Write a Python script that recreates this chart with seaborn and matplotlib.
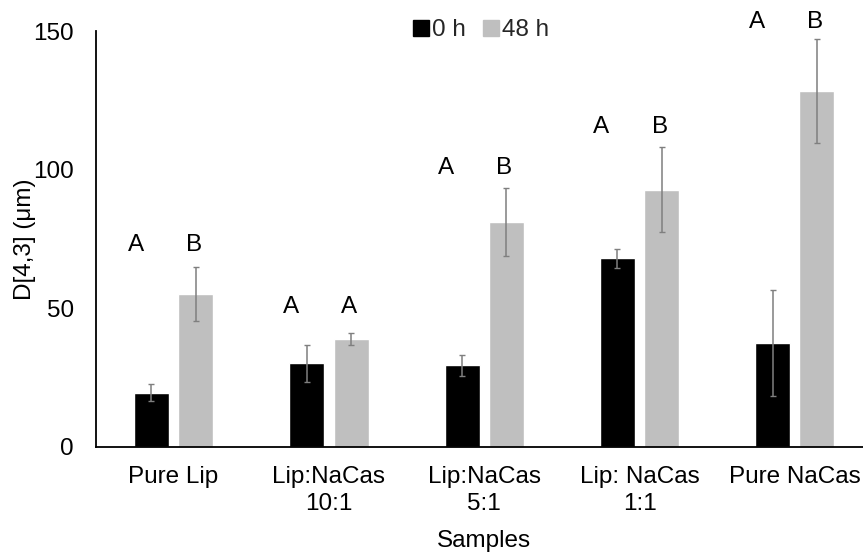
import matplotlib
matplotlib.use("Agg")
import matplotlib.pyplot as plt
from matplotlib.lines import Line2D
import seaborn as sns
import pandas as pd
import numpy as np

samples = ["Pure Lip", "Lip:NaCas\n10:1", "Lip:NaCas\n5:1", "Lip: NaCas\n1:1", "Pure NaCas"]
times = ["0 h", "48 h"]
mean_0h = [19.4, 30.0, 29.4, 68.0, 37.4]
mean_48h = [55.1, 38.7, 80.9, 92.7, 128.3]
err_0h = [3.0, 6.6, 3.8, 3.4, 19.0]
err_48h = [9.7, 2.1, 12.3, 15.3, 18.7]
letters_0h = ["A", "A", "A", "A", "A"]
letters_48h = ["B", "A", "B", "B", "B"]
letter_y = [72.8, 50.5, 100.5, 115.3, 153.3]

df = pd.DataFrame({
    "Sample": samples * 2,
    "Time": [times[0]] * 5 + [times[1]] * 5,
    "Value": mean_0h + mean_48h,
})

sns.set_theme(style="white")
plt.rcParams["font.family"] = ["Liberation Sans", "DejaVu Sans"]

fig = plt.figure(figsize=(8.63, 5.52), dpi=100)
ax = fig.add_axes([0.1112, 0.1911, 0.8998, 0.7527])

palette = {"0 h": "#000000", "48 h": "#bfbfbf"}
sns.barplot(data=df, x="Sample", y="Value", hue="Time", order=samples,
            hue_order=times, palette=palette, width=0.57, gap=0.21,
            errorbar=None, saturation=1, legend=False, ax=ax)

errs = [err_0h, err_48h]
bar_containers = list(ax.containers)
for ci, cont in enumerate(bar_containers):
    xs = [p.get_x() + p.get_width() / 2 for p in cont.patches]
    hs = [p.get_height() for p in cont.patches]
    ax.errorbar(xs, hs, yerr=errs[ci], fmt="none", ecolor="#7f7f7f",
                elinewidth=1.1, capsize=2.5, capthick=1.0, zorder=5)

for i in range(len(samples)):
    ax.text(i - 0.245, letter_y[i], letters_0h[i], ha="center", va="center",
            fontsize=17.5, color="black", clip_on=False)
    ax.text(i + 0.13, letter_y[i], letters_48h[i], ha="center", va="center",
            fontsize=17.5, color="black", clip_on=False)

ax.set_xlim(-0.5, 4.5)
ax.set_ylim(0, 150)
ax.set_yticks([0, 50, 100, 150])
ax.tick_params(axis="both", length=0, labelsize=17.5, colors="black")
ax.tick_params(axis="y", pad=16)
ax.tick_params(axis="x", pad=14)
for lab in ax.get_xticklabels():
    lab.set_linespacing(1.3)
ax.set_xlabel("Samples", fontsize=17.5, color="black", labelpad=11)
ax.set_ylabel("D[4,3] (μm)", fontsize=17.5, color="black")
ax.yaxis.set_label_coords(-0.077, 0.5)

for s in ["top", "right"]:
    ax.spines[s].set_visible(False)
for s in ["left", "bottom"]:
    ax.spines[s].set_color("black")
    ax.spines[s].set_linewidth(1.3)
ax.grid(False)

handles = [Line2D([], [], marker="s", linestyle="none", markersize=11,
                  markerfacecolor=palette[t], markeredgecolor=palette[t])
           for t in times]
fig.legend(handles, times, loc="center", bbox_to_anchor=(0.556, 0.945),
           ncol=2, frameon=False, fontsize=17.5, handletextpad=0.0,
           columnspacing=0.6, handlelength=0.9)

fig.savefig("out.png", dpi=100)
